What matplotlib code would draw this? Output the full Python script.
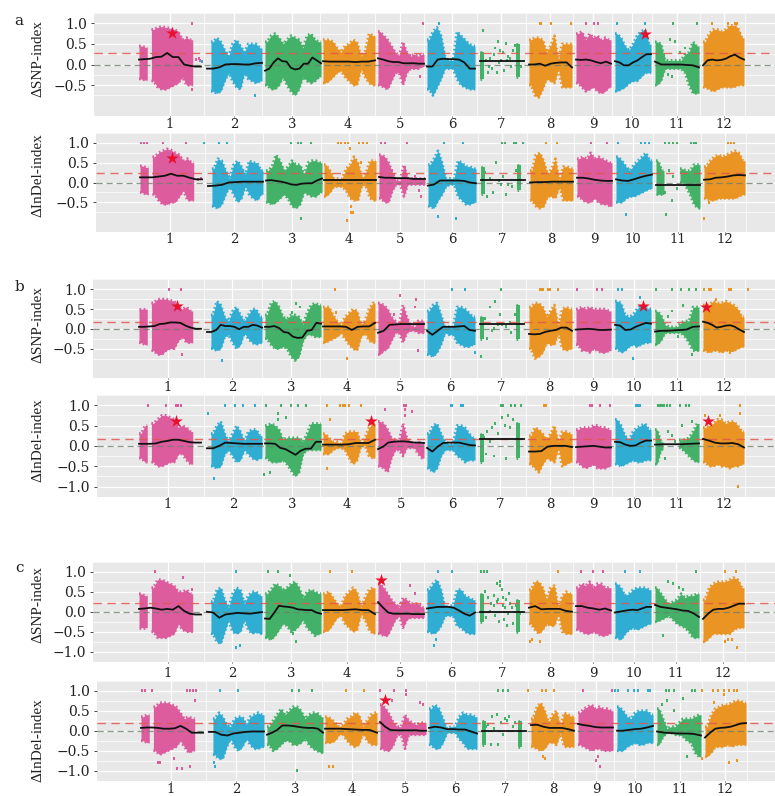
import matplotlib
matplotlib.use("Agg")
import matplotlib.pyplot as plt
import numpy as np

# chromosome spans on the shared position axis
chrom_start = [139, 207, 265, 323, 378, 427, 480, 529, 576, 615, 655, 703]
chrom_end = [201, 262, 321, 375, 424, 475, 524, 572, 611, 651, 699, 744]
chrom_color = ["#DC5C9E", "#2FADD3", "#43B268", "#EA9423"] * 3

a1_hi = [[.45,.42,0,.85,.9,.92,.9,.88,.85,.8,.6,.65,.6,0,0],[0,.55,.65,.55,.35,.2,.5,.6,.45,.3,.5,.5,.5,.4],[.55,.7,.75,.65,.5,.6,.7,.65,.6,.4,.7,.75,.6,.55],[.6,.6,.55,.4,.3,.45,.5,.6,.55,.2,.3,.75,.7],[.8,.7,.6,.45,.3,.2,.55,.3,.2,.25,.2,.25],[.6,.8,.9,.7,.2,.1,.1,.8,.7,.6,.5,.45],[.3,0,0,0,0,0,0,0,0,.5,0],[.6,.65,.65,.6,.3,.45,.7,.1,.5,.5,.5],[.75,.8,.6,.75,.65,.7,.6,.65,.6],[.75,.65,.45,.35,.5,.7,.8,.85,.5],[.55,.5,.1,.1,.1,.1,.1,.25,.3,.55,.45],[.55,.75,.85,.85,.8,.85,.95,.95,.9,.65]]
a1_lo = [[-.35,-.38,0,-.4,-.55,-.6,-.6,-.55,-.5,-.45,-.3,-.5,-.5,0,0],[0,-.65,-.7,-.65,-.4,-.2,-.4,-.55,-.6,-.2,-.35,-.4,-.45,-.4],[-.5,-.6,-.6,-.5,-.3,-.5,-.65,-.75,-.6,-.3,-.4,-.45,-.4,-.3],[-.45,-.4,-.3,-.2,-.15,-.3,-.4,-.5,-.5,-.1,-.3,-.45,-.5],[-.5,-.55,-.6,-.4,-.2,-.2,-.5,-.2,-.1,-.1,-.1,-.05],[-.6,-.75,-.55,-.35,-.1,-.1,-.1,-.35,-.5,-.55,-.6,-.6],[-.35,0,0,0,0,0,0,0,0,-.3,0],[-.5,-.75,-.8,-.6,-.35,-.4,-.45,-.1,-.55,-.55,-.55],[-.45,-.55,-.65,-.6,-.55,-.65,-.7,-.65,-.55],[-.65,-.6,-.55,-.45,-.4,-.4,-.3,-.2,-.2],[-.5,-.4,-.1,-.1,-.1,-.1,-.1,-.2,-.5,-.7,-.7],[-.55,-.6,-.65,-.6,-.55,-.55,-.55,-.55,-.5,-.5]]
a1_line = [[.12,.13,.14,.18,.19,.28,.18,.18,0,-.03,-.05,-.05],[-.1,-.1,-.07,0,.01,.01,0,0,.03,.04],[-.15,-.1,.05,.15,.08,.07,-.08,-.12,-.1,.02,.02,.17,.1,.03],[.08,.07,.07,.07,.07,.06,.07,.07,.1],[.15,.12,.08,.06,.06,.03,.03,.03,.02,.02],[-.05,-.05,.12,.14,.13,.13,.12,.05,-.1,-.1],[.08,.08,.08,.08,.08],[0,0,.02,-.03,.02,.04,.05,.05,-.07],[.12,.11,.12,.1,.06,.03,.07,.02],[.08,.05,-.02,-.02,.05,.1,.18,.25,.25],[.07,0,0,0,0,-.01,-.02,-.07],[-.02,.1,.12,.1,.11,.14,.2,.24,.17,.12]]
a1_top = [192,423,439,540,541,551,571,586,594,598,617,645,673,697,712,728,735,737]
a1_x = [483,490,495,498,500,503,506,508,492,497,501,510,513,486,489,494,499,504,507,511,515,519,521,488,196,199,202,192,670,675,680,664,668,685,688,672,410,415,420,200,255]
a1_y = [.82,.15,.4,.55,.35,.3,.5,.2,-.1,-.2,.1,.15,.35,.1,-.05,.25,.05,-.15,.1,-.05,.45,.2,-.05,-.2,.12,.15,.08,-.6,.6,.55,.3,.2,-.25,.4,.15,-.3,.2,.15,-.3,.1,-.75]

a2_hi = [[.42,.38,0,.65,.75,.8,.85,.82,.75,.7,.55,.6,.5,0,0],[0,.35,.6,.55,.3,.1,.45,.55,.4,.2,.55,.5,.5,.3],[.3,.4,.7,.55,.3,.4,.55,.45,.45,.2,.5,.55,.55,.5],[.45,.3,.1,.1,.1,.35,.45,.65,.5,.1,.25,.55,.55],[.7,.65,.5,.25,.05,.05,.45,.1,.1,.1,.1,.1],[.45,.6,.8,.5,.1,.1,.1,.55,.5,.4,.4,.35],[.4,0,0,0,0,0,0,0,0,.45,0],[.3,.7,.75,.55,.2,.35,.6,.05,.4,.4,.35],[.6,.65,.6,.75,.6,.65,.6,.55,.5],[.65,.55,.4,.3,.45,.55,.65,.75,.55],[.55,.3,0,0,0,0,.35,.3,.3,.45,.45],[.4,.55,.65,.7,.65,.7,.75,.8,.75,.55]]
a2_lo = [[-.25,-.3,0,-.3,-.45,-.55,-.55,-.5,-.5,-.35,-.2,-.45,-.45,0,0],[0,-.6,-.65,-.55,-.3,-.1,-.3,-.5,-.4,-.1,-.3,-.4,-.45,-.3],[-.5,-.55,-.5,-.4,-.3,-.4,-.6,-.65,-.55,-.25,-.3,-.35,-.35,-.25],[-.35,-.25,-.1,-.1,-.1,-.2,-.4,-.45,-.45,-.05,-.1,-.4,-.45],[-.4,-.5,-.5,-.2,-.05,-.05,-.35,-.05,-.05,-.05,-.05,-.05],[-.6,-.65,-.45,-.3,-.1,-.05,-.05,-.35,-.45,-.55,-.55,-.5],[-.3,0,0,0,0,0,0,0,0,-.2,0],[-.45,-.6,-.65,-.6,-.35,-.35,-.4,-.1,-.45,-.45,-.45],[-.35,-.45,-.5,-.5,-.4,-.5,-.55,-.55,-.6],[-.5,-.5,-.4,-.35,-.35,-.3,-.25,-.2,-.15],[-.3,-.3,0,0,0,0,0,-.1,-.3,-.55,-.65],[-.4,-.45,-.45,-.4,-.4,-.4,-.4,-.4,-.35,-.3]]
a2_line = [[.13,.13,.13,.15,.17,.22,.17,.17,.12,.08,.08],[-.09,-.08,-.06,0,.01,.02,.02,.02,.02],[.05,.06,.04,.02,-.01,-.05,-.06,-.03,-.02,-.02,.05,.1],[.07,.07,.07,.07,.07],[.14,.12,.12,.11,.11,.11,.09,.09,.09],[-.08,-.05,.05,.05,.05,.05,.04,0,-.02],[.06,.06,.06,.06],[0,.01,.01,.02,.02,.02,.02],[.12,.12,.1,.07,.05,.04,.04],[.08,.05,.04,.08,.13,.17,.2],[-.06,-.06,-.06,-.06],[.07,.08,.12,.13,.15,.18,.19,.18]]
a2_top = [140,143,146,162,185,203,218,226,290,297,300,310,337,340,344,347,358,362,366,380,384,406,443,462,501,504,513,515,522,545,556,590,606,617,640,644,648,664,668,672,676,690,693,695,727,730,733]
a2_x = [495,489,500,502,507,511,515,486,484,492,498,505,197,200,192,349,352,346,354,360,668,672,676,664,680,391,393,404,414,418,420,671,665,437,455,703,708,300,350,350,625]
a2_y = [.5,.1,-.05,.15,-.05,-.1,.3,-.35,.25,-.25,.05,-.3,.08,.1,-.05,.85,-.75,-.95,.35,.5,.3,.15,-.15,-.25,.25,.3,.2,.35,.15,-.2,-.35,-.45,-.8,-.85,-.9,-.9,-.5,-.9,-.6,-.75,-.8]

b1_hi = [[.5,.5,0,.65,.75,.75,.75,.72,.7,.55,.5,.55,.45,0,0],[0,.35,.7,.6,.3,.2,.45,.55,.35,.2,.35,.5,.5,.3],[.35,.65,.7,.55,.3,.25,.35,.35,.3,.1,.4,.6,.65,.6],[.55,.55,.35,.2,.1,.3,.4,.5,.45,.1,.2,.5,.65],[.65,.6,.5,.3,.2,.1,.6,.3,.1,.05,.2,.2],[.45,.6,.65,.35,.05,.05,.05,.55,.55,.5,.4,.3],[.3,0,0,0,0,0,0,0,0,.6,0],[.55,.65,.65,.55,.3,.45,.6,.05,.5,.55,.5],[.5,.55,.5,.55,.5,.5,.5,.5,.45],[.7,.65,.35,.3,.35,.5,.6,.55,.5],[.45,.35,.1,.05,.05,.05,.15,.2,.2,.55,.55],[.6,.6,.7,.65,.65,.7,.65,.6,.5,.3]]
b1_lo = [[-.35,-.4,0,-.55,-.65,-.65,-.55,-.5,-.5,-.3,-.2,-.35,-.35,0,0],[0,-.5,-.55,-.5,-.2,-.15,-.35,-.5,-.4,-.1,-.25,-.35,-.4,-.35],[-.25,-.4,-.5,-.5,-.45,-.5,-.7,-.8,-.7,-.3,-.15,-.15,-.2,-.2],[-.35,-.3,-.25,-.2,-.1,-.25,-.4,-.5,-.55,-.2,-.1,-.3,-.35],[-.65,-.55,-.5,-.3,-.1,-.1,-.35,-.1,-.05,-.05,-.1,-.1],[-.65,-.7,-.6,-.4,-.1,-.15,-.15,-.35,-.4,-.45,-.45,-.4],[-.25,0,0,0,0,0,0,0,0,-.25,0],[-.5,-.75,-.7,-.6,-.35,-.4,-.4,-.1,-.5,-.55,-.5],[-.4,-.55,-.55,-.6,-.5,-.55,-.6,-.6,-.55],[-.5,-.6,-.55,-.45,-.4,-.45,-.4,-.35,-.35],[-.4,-.3,-.1,-.1,-.1,-.1,-.1,-.2,-.35,-.55,-.55],[-.55,-.6,-.55,-.55,-.6,-.55,-.55,-.55,-.5,-.45]]
b1_line = [[.05,.05,.06,.07,.12,.13,.16,.16,.15,.08,.03,0,0],[-.08,-.08,-.03,.1,.07,.07,.05,-.01,.05,.05,.1,.08,.03],[.05,.05,.07,.02,-.08,-.1,-.2,-.23,-.22,-.05,-.03,.15,.13],[.06,.06,.06,.06,.05,-.03,.05,.06,.06,.15],[-.1,-.05,.1,.11,.12,.12,.12,.12,.12],[-.05,-.15,-.05,.05,.05,.05,.06,.07,-.03,-.05],[.13,.13,.13,.13],[-.13,-.14,-.13,-.08,-.05,-.03,.03,.03,-.05],[-.02,-.01,0,-.01,-.03,-.03,-.02],[.1,.08,-.03,-.02,.05,.1,.15,.13],[-.07,-.05,-.05,-.04,-.03,-.02,.05,.06],[.18,.15,.1,.03,.05,.08,.09,.05,-.02,-.08]]
b1_top = [169,181,335,452,465,501,540,541,543,548,550,558,577,597,602,618,622,656,672,681,689,696,704,709,711,710,710,729,731,729,748]
b1_x = [495,490,500,485,502,510,515,498,506,492,487,511,481,494,672,668,664,678,683,660,685,190,182,222,296,300,292,347,336,416,415,418,394,400,692,633,716,730,733,640,475]
b1_y = [.7,.55,.35,.25,.1,.15,.35,.1,.05,-.05,-.25,-.1,-.7,.0,.45,.3,.1,-.2,.6,.2,-.1,.2,-.65,-.8,.65,.55,.4,-.75,.4,.75,.55,-.55,.35,.85,-.65,-.75,.75,-.6,-.55,.8,-.6]

b2_hi = [[.3,.5,0,.55,.65,.75,.75,.7,.65,.45,.5,.45,.35,0,0],[0,.3,.5,.6,.3,.1,.3,.5,.35,.1,.35,.4,.4,.25],[.5,.55,.5,.4,.15,.2,.2,.2,.2,.1,.3,.55,.55,.55],[.3,.2,.1,.1,.05,.3,.35,.35,.35,.05,.2,.45,.55],[.6,.55,.4,.2,.15,.1,.55,.2,.1,.05,.1,.05],[.3,.5,.55,.3,.1,.05,.05,.5,.5,.45,.3,.2],[.3,0,0,0,0,0,0,0,0,.55,0],[.25,.45,.4,.3,.15,.3,.5,.1,.35,.35,.3],[.4,.45,.45,.45,.5,.5,.45,.45,.4],[.65,.5,.25,.15,.35,.45,.5,.55,.4],[.4,.1,0,0,0,0,.15,.15,.2,.35,.55],[.45,.5,.55,.65,.65,.55,.6,.6,.5,.35]]
b2_lo = [[-.3,-.4,0,-.4,-.5,-.5,-.45,-.4,-.4,-.2,-.2,-.35,-.45,0,0],[0,-.5,-.55,-.5,-.2,-.1,-.25,-.4,-.35,-.1,-.2,-.3,-.35,-.3],[-.3,-.4,-.4,-.4,-.35,-.45,-.6,-.75,-.65,-.2,-.1,-.1,-.1,-.1],[-.2,-.2,-.1,-.05,-.05,-.1,-.3,-.45,-.35,0,0,-.25,-.3],[-.5,-.55,-.65,-.3,-.1,-.1,-.25,-.05,-.05,-.05,-.2,-.3],[-.55,-.65,-.55,-.25,-.1,-.1,-.1,-.25,-.3,-.4,-.35,-.35],[-.4,0,0,0,0,0,0,0,0,-.3,0],[-.45,-.55,-.65,-.45,-.3,-.35,-.4,-.05,-.5,-.45,-.4],[-.4,-.5,-.55,-.5,-.45,-.55,-.55,-.55,-.5],[-.45,-.5,-.45,-.4,-.35,-.4,-.4,-.35,-.35],[-.45,-.1,0,0,0,0,-.05,-.15,-.25,-.35,-.4],[-.4,-.5,-.5,-.45,-.5,-.5,-.55,-.5,-.5,-.45]]
b2_line = [[.05,.05,.05,.06,.1,.12,.15,.15,.12,.09,.08,.08],[-.06,-.06,0,.08,.07,.06,.05,.05,.05,.05],[.06,.06,.05,-.05,-.08,-.15,-.22,-.12,-.07,-.07,.1,.1],[.03,.03,.03,.03,.04,.07,.07,.07,.15],[-.08,-.02,.08,.1,.11,.11,.1,.08,.08,.07],[-.05,-.14,-.02,.07,.08,.08,.08,.05,.02,.01],[.16,.16,.16,.16],[-.14,-.14,-.13,-.02,0,0,0,-.03],[-.03,-.02,-.01,0,-.02,-.04,-.04],[.1,.09,.03,0,.01,.08,.13,.13],[.03,.04,.04,.04,.05,.06],[.17,.13,.08,.06,.06,.07,.04,-.04]]
b2_top = [148,166,176,178,181,225,235,243,255,266,281,291,298,306,327,340,343,345,349,361,404,406,451,452,461,463,501,503,511,515,521,544,546,590,592,600,600,610,636,640,638,658,660,662,664,667,670,680,686,689,740]
b2_x = [484,487,490,492,495,498,502,505,508,510,513,486,494,506,208,214,264,270,278,278,658,660,672,668,665,675,682,683,692,695,705,740,738,405,405,412,385,286,330,327,720]
b2_y = [.2,.35,.1,.45,.55,.3,.7,.5,.75,.45,.65,-.2,-.25,-.3,.8,-.8,-.7,-.65,.8,.65,.1,-.15,.25,.35,-.3,.1,.5,-.1,.6,-.2,.75,.8,-1.0,.9,.75,.85,.9,.7,.65,-.55,.75]

c1_hi = [[.45,.4,0,.6,.8,.8,.75,.7,.65,.5,.5,.55,.45,0,0],[0,.25,.55,.6,.3,.1,.45,.6,.55,.2,.4,.5,.5,.4],[.45,.55,.7,.65,.55,.6,.7,.75,.6,.35,.5,.55,.5,.45],[.45,.5,.35,.2,.15,.4,.5,.6,.5,.1,.35,.55,.6],[.7,.6,.45,.3,.2,.1,.35,.3,.2,.2,.2,.1],[.55,.7,.8,.55,.1,.15,.15,.55,.55,.4,.35,.3],[.45,0,0,0,0,0,0,0,0,.3,0],[.55,.75,.75,.6,.3,.6,.65,.1,.4,.5,.45],[.6,.7,.65,.75,.6,.7,.7,.6,.6],[.7,.6,.4,.45,.55,.6,.6,.6,.55],[.6,.45,.3,.2,.25,.3,.45,.35,.4,.4,.45],[.3,.6,.7,.75,.75,.75,.8,.85,.8,.6]]
c1_lo = [[-.4,-.4,0,-.5,-.65,-.65,-.65,-.6,-.55,-.3,-.45,-.5,-.5,0,0],[0,-.55,-.75,-.8,-.5,-.2,-.5,-.55,-.5,-.2,-.45,-.55,-.5,-.55],[-.65,-.7,-.6,-.45,-.3,-.35,-.5,-.45,-.35,-.2,-.4,-.5,-.6,-.55],[-.5,-.45,-.3,-.15,-.1,-.3,-.4,-.5,-.45,-.05,-.2,-.45,-.55],[-.55,-.6,-.6,-.4,-.2,-.1,-.4,-.2,-.15,-.15,-.15,-.15],[-.5,-.55,-.5,-.35,-.1,-.1,-.1,-.35,-.4,-.5,-.55,-.55],[-.25,0,0,0,0,0,0,0,0,-.5,0],[-.3,-.45,-.55,-.45,-.3,-.35,-.35,-.05,-.5,-.55,-.55],[-.45,-.5,-.55,-.55,-.5,-.55,-.6,-.6,-.55],[-.65,-.7,-.55,-.45,-.4,-.45,-.4,-.35,-.3],[-.25,-.2,-.15,-.1,-.2,-.3,-.35,-.4,-.5,-.65,-.65],[-.75,-.65,-.55,-.55,-.55,-.55,-.55,-.45,-.4,-.4]]
c1_line = [[.07,.08,.1,.08,.05,.07,.05,.14,.02,-.05,-.07,-.07],[0,-.02,-.15,-.07,-.05,-.03,-.04,-.05,-.03,-.01],[-.17,-.18,-.02,.15,.13,.12,.1,.06,.05,.04,.04,-.02,-.05],[.04,.04,.04,.04,.05,.06,.04,.04,-.06],[.24,.1,-.02,-.05,-.05,-.05,-.05,-.06,-.06,-.06],[.08,.1,.12,.12,.12,.1,.03,-.05,-.1,-.02],[0,0,0,0,0],[.1,.14,.06,.07,.07,.07,.02,0],[.14,.14,.1,.08,.05,.08,.03],[-.02,0,.02,.04,.05,.04,.08,.12,.12],[.17,.12,.1,.08,.06,.03,.02,-.04,-.13],[-.18,-.05,.05,.07,.07,.1,.15,.2,.2]]
c1_top = [155,236,268,278,330,352,438,452,481,484,487,558,581,593,603,625,640,640,696,725,736]
c1_x = [485,488,491,494,497,500,503,506,509,512,490,495,499,504,508,513,516,520,497,500,503,505,507,486,494,498,502,510,183,192,183,296,290,293,236,240,410,415,434,436,668,673,679,677,683,664,663,725,728,732,737,540,532,530]
c1_y = [.5,.35,.2,.4,.25,.75,.15,.3,.45,.1,.0,-.1,-.25,-.2,-.05,-.3,.15,-.05,.7,.65,.35,.1,-.35,-.15,.15,.3,.55,.2,.85,.55,.35,-.75,.9,-.55,-.9,-.85,.65,.45,-.85,-.7,.75,.7,.6,-.2,.55,.1,-.6,-.75,-.7,-.7,-.9,-.75,-.7,-.75]

c2_hi = [[.35,.4,0,.6,.7,.7,.7,.65,.6,.45,.3,.35,.3,0,0],[0,.3,.45,.35,.15,.1,.3,.35,.35,.15,.35,.4,.45,.4],[.1,.25,.4,.55,.4,.5,.6,.6,.5,.3,.4,.45,.45,.35],[.35,.3,.2,.1,.15,.3,.35,.45,.4,.1,.25,.4,.45],[.65,.55,.4,.2,.1,.1,.4,.25,.2,.15,.2,.2],[.55,.65,.55,.3,.05,.1,.1,.35,.45,.4,.4,.35],[.25,0,0,0,0,0,0,0,0,.25,0],[.3,.6,.7,.5,.2,.4,.5,.1,.45,.4,.35],[.45,.55,.6,.65,.55,.6,.55,.55,.5],[.6,.5,.35,.3,.45,.5,.5,.5,.4],[.55,.3,.05,.1,.1,.2,.3,.3,.3,.35,.4],[.1,.4,.55,.6,.65,.65,.7,.75,.75,.7]]
c2_lo = [[-.25,-.3,0,-.5,-.6,-.55,-.5,-.45,-.4,-.25,-.4,-.55,-.5,0,0],[0,-.6,-.7,-.7,-.4,-.2,-.4,-.5,-.4,-.2,-.35,-.45,-.45,-.4],[-.35,-.5,-.45,-.35,-.25,-.25,-.35,-.35,-.3,-.2,-.35,-.45,-.5,-.55],[-.3,-.3,-.25,-.1,-.1,-.25,-.35,-.4,-.35,-.05,-.25,-.35,-.35],[-.45,-.5,-.5,-.35,-.1,-.1,-.45,-.1,-.1,-.1,-.1,-.1],[-.35,-.45,-.45,-.3,-.05,-.05,-.05,-.2,-.3,-.45,-.45,-.45],[-.35,0,0,0,0,0,0,0,0,-.4,0],[-.4,-.45,-.5,-.45,-.3,-.3,-.35,-.05,-.4,-.4,-.4],[-.35,-.4,-.45,-.5,-.45,-.45,-.5,-.5,-.5],[-.5,-.5,-.4,-.35,-.3,-.35,-.35,-.3,-.3],[-.35,-.15,-.05,-.05,-.1,-.1,-.15,-.25,-.3,-.55,-.65],[-.65,-.55,-.4,-.4,-.4,-.35,-.4,-.35,-.35,-.35]]
c2_line = [[.07,.08,.08,.07,.05,.05,.06,.12,.05,-.05,-.05,-.05],[-.03,-.03,-.1,-.12,-.07,-.05,-.03,-.02,-.02,-.02],[-.1,-.05,.02,.13,.13,.12,.1,.08,.07,.07,.05,-.05],[.05,.05,.05,.04,.03,.02,.02,-.05],[.22,.1,.02,.01,.01,.01,.01,.01,0,0],[.07,.1,.08,.04,.04,.03,.03,-.02,-.07],[-.01,-.01,-.01,-.01],[.14,.15,.1,.07,.07,.07,.04,0],[.17,.14,.12,.09,.08,.08,.08],[0,0,.02,.04,.05,.08,.12],[-.02,-.05,-.06,-.07,-.07,-.08,-.12],[-.17,-.05,.05,.07,.08,.1,.14,.18,.19]]
c2_top = [140,143,150,185,188,191,194,218,236,290,297,310,344,362,378,392,404,496,501,506,526,540,544,552,581,610,613,616,626,632,636,646,648,664,667,672,690,693,700,711,716,722,727,732,735]
c2_x = [486,490,495,499,503,507,511,513,484,489,496,501,505,492,156,158,175,172,193,188,180,212,213,295,327,331,390,404,418,421,543,541,596,594,598,660,665,681,672,685,700,712,722,727,735]
c2_y = [.15,.35,.4,.2,.3,.35,.1,.2,.1,-.35,-.35,-.1,.25,.05,-.8,-.8,-.95,-.7,.75,-.9,-.95,-.8,-.9,-1.0,-.9,-.9,.75,.9,.7,.65,-.7,-.65,-.65,-.75,-.9,.65,.75,.8,.5,-.65,-.7,.7,.9,-.8,-.75]

# axes boxes in pixels: left, top, bottom
boxes = [(94, 13, 116), (96, 133, 232), (93, 279.3, 378.3), (97, 395, 496.7), (93, 561.7, 661.7), (97, 680.7, 780.7)]
ylims = [(-.934, 1.126), (-.951, 1.082), (-.968, 1.116), (-1.133, 1.127), (-.994, 1.09), (-1.12, 1.102)]
yticks = [[-.5, 0, .5, 1], [-.5, 0, .5, 1], [-.5, 0, .5, 1], [-1, -.5, 0, .5, 1], [-1, -.5, 0, .5, 1], [-1, -.5, 0, .5, 1]]
xticks = [[170,234,292,348,400,452,501,550,593,632,677,724],[170,234,292,349,400,452,502,551,594,633,678,725],[168,232,291,347,400,450,501,549,593,634,677,724],[168,233,292,347,401,452,500,550,593,634,677,724],[168,232,291,347,400,451,502,550,593,634,676,723],[171,236,295,352,405,455,505,553,596,635,680,725]]
xpads = [.5, 0, 1, 0, 3, .5]
offsets = [0, 1, 0, 0, 0, 2]
thresholds = [.27, .23, .18, .16, .22, .2]
star_x = [[172, 645], [172], [177, 643, 706], [176, 371, 708], [381], [385]]
star_y = [[.76, .75], [.63], [.57, .58, .54], [.6, .6, .6], [.8], [.78]]
y_labels = ["\u0394SNP-index", "\u0394InDel-index"] * 3
label_y = [59, 175, 325, 440, 605, 740]
letters = ["a", "b", "c"]
letter_y = [21, 287, 568]
hi_all = [a1_hi, a2_hi, b1_hi, b2_hi, c1_hi, c2_hi]
lo_all = [a1_lo, a2_lo, b1_lo, b2_lo, c1_lo, c2_lo]
line_all = [a1_line, a2_line, b1_line, b2_line, c1_line, c2_line]
top_all = [a1_top, a2_top, b1_top, b2_top, c1_top, c2_top]
x_all = [a1_x, a2_x, b1_x, b2_x, c1_x, c2_x]
y_all = [a1_y, a2_y, b1_y, b2_y, c1_y, c2_y]

W, H = 775, 796
plt.rcParams["font.family"] = "DejaVu Serif"
fig = plt.figure(figsize=(W / 100, H / 100), dpi=100)


def point_color(x):
    i = np.searchsorted(chrom_end, x)
    return chrom_color[min(i, 11)]


def draw_cloud(ax, xs, hi, lo, w, color):
    # one blob per run of strips, dotted rim so the edge looks speckled
    keep = hi != lo
    i = 0
    while i < len(xs):
        if not keep[i]:
            i += 1
            continue
        j = i
        while j + 1 < len(xs) and keep[j + 1]:
            j += 1
        rx = np.r_[xs[i] - w / 2, xs[i:j + 1], xs[j] + w / 2]
        rh = np.r_[hi[i], hi[i:j + 1], hi[j]]
        rl = np.r_[lo[i], lo[i:j + 1], lo[j]]
        ax.fill_between(rx, rl, rh, color=color, lw=0, zorder=2)
        ax.plot(rx, rh, color=color, lw=2, ls=(0, (.6, .9)), zorder=2)
        ax.plot(rx, rl, color=color, lw=2, ls=(0, (.6, .9)), zorder=2)
        i = j + 1


for p in range(6):
    left, top, bottom = boxes[p]
    ax = fig.add_axes([left / W, 1 - bottom / H, (W - left) / W, (bottom - top) / H])
    ax.set_facecolor("#E8E8E8")
    for s in ax.spines.values():
        s.set_visible(False)
    ax.set_axisbelow(True)
    off = offsets[p]

    for c in range(12):
        hi = np.array(hi_all[p][c], dtype=float)
        lo = np.array(lo_all[p][c], dtype=float)
        n = len(hi)
        w = (chrom_end[c] - chrom_start[c]) / n
        xs = chrom_start[c] + off + w * (np.arange(n) + .5)
        draw_cloud(ax, xs, hi, lo, w, chrom_color[c])
        # running average
        lx = np.linspace(chrom_start[c] + off, chrom_end[c] + off, len(line_all[p][c]))
        ax.plot(lx, line_all[p][c], color="#111111", lw=1.3, zorder=5)

    # loose points
    tx = np.array(top_all[p]) + off
    ax.scatter(tx, np.ones(len(tx)), s=4, marker="s", lw=0, c=[point_color(x - off) for x in tx], zorder=3)
    sx = np.array(x_all[p]) + off
    ax.scatter(sx, y_all[p], s=4.5, marker="s", lw=0, c=[point_color(x - off) for x in sx], zorder=3)

    ax.axhline(thresholds[p], color="#E2574C", lw=1, dashes=(6, 4), alpha=.85, zorder=4)
    ax.axhline(0, color="#6E7F6E", lw=.9, dashes=(5, 3), alpha=.8, zorder=4)
    ax.scatter(star_x[p], star_y[p], s=90, marker="*", color="#E8112D", lw=0, zorder=6)

    ax.set_xlim(left, W)
    ax.set_ylim(*ylims[p])
    ax.set_xticks(xticks[p])
    ax.set_xticklabels([str(i) for i in range(1, 13)], fontsize=9.5, color="#222222")
    ax.set_yticks(yticks[p])
    ax.set_yticklabels([("\u2212" if v < 0 else "") + "%.1f" % abs(v) for v in yticks[p]], fontsize=10, color="#222222")
    ax.set_xticks(np.array(chrom_start[1:] + [748]) - 3 + off, minor=True)
    ax.set_yticks(np.arange(-1.25, 1.26, .5), minor=True)
    ax.grid(True, which="major", color="white", lw=.9)
    ax.grid(True, which="minor", color="white", lw=.5)
    ax.tick_params(which="minor", length=0)
    ax.tick_params(axis="y", which="major", length=2, width=.7, color="#444444", pad=3)
    ax.tick_params(axis="x", which="major", length=1, width=.7, color="#444444", pad=xpads[p])

    fig.text(38 / W, 1 - label_y[p] / H, y_labels[p], rotation=90, ha="center", va="center",
             family="Liberation Serif", fontsize=11, color="#222222")

for l, y in zip(letters, letter_y):
    fig.text(19 / W, 1 - y / H, l, ha="center", va="center", fontsize=11, color="#222222")

plt.savefig("out.png", dpi=100)
plt.close()
